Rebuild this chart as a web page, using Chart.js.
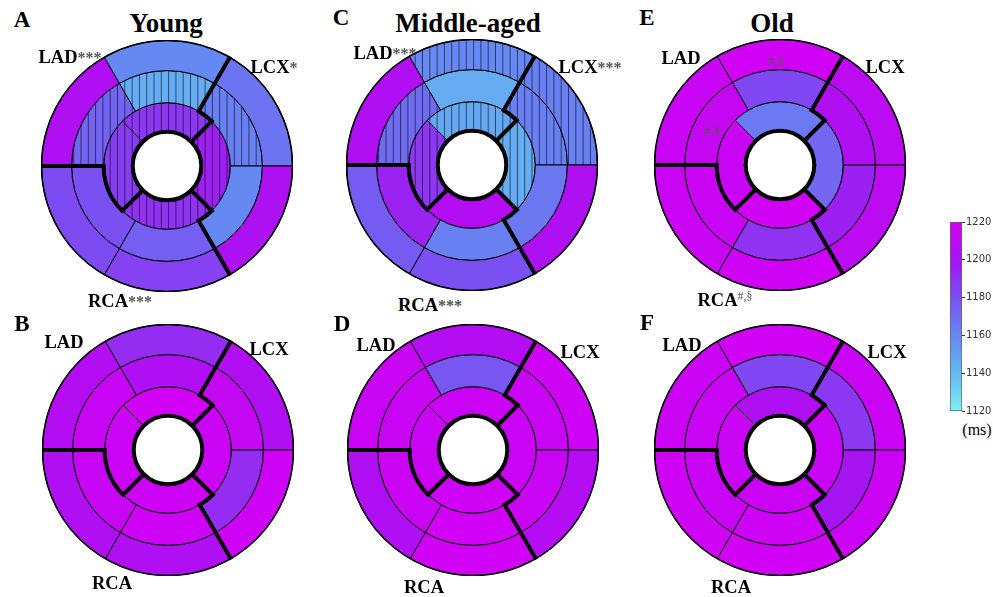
<!DOCTYPE html>
<html>
<head>
<meta charset="utf-8">
<script src="https://cdn.jsdelivr.net/npm/chart.js@4.4.0/dist/chart.umd.min.js"></script>
<style>
  body { margin: 0; background: #fff; }
  #page { position: relative; width: 993px; height: 597px; overflow: hidden; font-family: "Liberation Serif", "Times New Roman", serif; }
  .bull { position: absolute; }
  .t { position: absolute; transform: translate(-50%, -50%); line-height: 1; white-space: nowrap; font-weight: bold; color: #000; }
  .letter { font-size: 23px; }
  .title { font-size: 27px; }
  .lab { font-size: 18.5px; }
  .star { color: #555; font-size: 16px; }
  .sup { font-size: 12px; font-weight: normal; color: #555; vertical-align: 6px; }
  .note { font-size: 13px; font-weight: normal; color: #555; }
  .ms { font-size: 16px; font-weight: normal; }
</style>
</head>
<body>
<div id="page">
  <canvas id="bA" class="bull" width="252" height="252" style="left:41px;top:40px"></canvas>
  <canvas id="bB" class="bull" width="252" height="252" style="left:42px;top:324px"></canvas>
  <canvas id="bC" class="bull" width="252" height="252" style="left:346px;top:39px"></canvas>
  <canvas id="bD" class="bull" width="252" height="252" style="left:347px;top:324px"></canvas>
  <canvas id="bE" class="bull" width="252" height="252" style="left:654px;top:39px"></canvas>
  <canvas id="bF" class="bull" width="252" height="252" style="left:654px;top:324px"></canvas>
  <canvas id="cbar" width="45" height="206" style="position:absolute;left:948px;top:212px"></canvas>

  <div class="t letter" style="left:22px;top:19px">A</div>
  <div class="t title" style="left:166px;top:23px">Young</div>
  <div class="t lab" style="left:70px;top:57px">LAD<span class="star">***</span></div>
  <div class="t lab" style="left:274px;top:67px">LCX<span class="star">*</span></div>
  <div class="t lab" style="left:120px;top:301px">RCA<span class="star">***</span></div>

  <div class="t letter" style="left:22px;top:323px">B</div>
  <div class="t lab" style="left:64px;top:342px">LAD</div>
  <div class="t lab" style="left:269px;top:349px">LCX</div>
  <div class="t lab" style="left:112px;top:583px">RCA</div>

  <div class="t letter" style="left:341px;top:17px">C</div>
  <div class="t title" style="left:468px;top:23px">Middle-aged</div>
  <div class="t lab" style="left:385px;top:53px">LAD<span class="star">***</span></div>
  <div class="t lab" style="left:590px;top:67px">LCX<span class="star">***</span></div>
  <div class="t lab" style="left:430px;top:305px">RCA<span class="star">***</span></div>

  <div class="t letter" style="left:342px;top:323px">D</div>
  <div class="t lab" style="left:376px;top:345px">LAD</div>
  <div class="t lab" style="left:580px;top:352px">LCX</div>
  <div class="t lab" style="left:424px;top:587px">RCA</div>

  <div class="t letter" style="left:647px;top:17px">E</div>
  <div class="t title" style="left:772px;top:23px">Old</div>
  <div class="t lab" style="left:681px;top:58px">LAD</div>
  <div class="t lab" style="left:885px;top:67px">LCX</div>
  <div class="t lab" style="left:725px;top:300px">RCA<span class="sup">#,§</span></div>
  <div class="t note" style="left:776px;top:60px">#,§</div>
  <div class="t note" style="left:712px;top:130px">#,§</div>

  <div class="t letter" style="left:647px;top:322px">F</div>
  <div class="t lab" style="left:682px;top:345px">LAD</div>
  <div class="t lab" style="left:887px;top:352px">LCX</div>
  <div class="t lab" style="left:731px;top:587px">RCA</div>

  <div class="t ms" style="left:977px;top:430px">(ms)</div>
</div>
<script>
// T1 values (ms) per AHA segment 1..16
const valuesA = [1160, 1205, 1182, 1185, 1203, 1167, 1145, 1173, 1180, 1175, 1160, 1163, 1188, 1186, 1190, 1196];
const valuesB = [1192, 1207, 1205, 1205, 1218, 1205, 1205, 1215, 1215, 1218, 1192, 1213, 1219, 1217, 1218, 1217];
const valuesC = [1160, 1205, 1176, 1180, 1204, 1163, 1145, 1170, 1195, 1163, 1166, 1163, 1147, 1188, 1207, 1145];
const valuesD = [1207, 1216, 1205, 1219, 1207, 1218, 1178, 1216, 1217, 1219, 1216, 1216, 1217, 1217, 1218, 1217];
const valuesE = [1219, 1216, 1216, 1218, 1210, 1210, 1183, 1214, 1216, 1190, 1196, 1205, 1165, 1216, 1219, 1172];
const valuesF = [1219, 1217, 1218, 1219, 1217, 1217, 1183, 1216, 1216, 1218, 1200, 1188, 1204, 1216, 1217, 1216];

// hatched (significant) segments
const hatchA = [7, 8, 12, 13, 14, 15, 16];
const hatchC = [1, 6, 8, 12, 13, 14, 16];

// segment order in each ring, clockwise from the ring's start
const basalRing = [1, 6, 5, 4, 3, 2];
const midRing = [7, 12, 11, 10, 9, 8];
const apexRing = [13, 16, 15, 14];
const ringSpan = [60, 60, 60, 60, 60, 60];
const apexSpan = [90, 90, 90, 90];

// colour bar
const barTicks = [1120, 1140, 1160, 1180, 1200, 1220];
const barColors = ['#80f0f2', '#64b8f2', '#6688f2', '#7a50f2', '#a614f2', '#d200f4'];

function hexRgb(h) {
  return [1, 3, 5].map(i => parseInt(h.substr(i, 2), 16));
}

function cmap(v) {
  let i = 0;
  while (i < barTicks.length - 2 && v > barTicks[i + 1]) i++;
  let f = (v - barTicks[i]) / (barTicks[i + 1] - barTicks[i]);
  f = Math.max(0, Math.min(1, f));
  const a = hexRgb(barColors[i]), b = hexRgb(barColors[i + 1]);
  const c = a.map((x, k) => Math.round(x + (b[k] - x) * f));
  return `rgb(${c[0]},${c[1]},${c[2]})`;
}

function angDiff(a, b) {
  let d = b - a;
  while (d > Math.PI) d -= 2 * Math.PI;
  while (d <= -Math.PI) d += 2 * Math.PI;
  return d;
}

const bullseyePlugin = {
  id: 'bullseye',
  afterDatasetsDraw(chart) {
    const ctx = chart.ctx;
    const m0 = chart.getDatasetMeta(0);
    const m2 = chart.getDatasetMeta(2);
    const cx = m0.data[0].x, cy = m0.data[0].y;
    const R = m0.data[0].outerRadius;
    const rMid = m2.data[0].outerRadius;
    const rHole = m2.data[0].innerRadius;
    const hatch = chart.options.plugins.bullseye.hatch || [];

    // vertical hatching
    chart.data.datasets.forEach((ds, di) => {
      chart.getDatasetMeta(di).data.forEach((el, j) => {
        if (!hatch.includes(ds.segs[j])) return;
        ctx.save();
        ctx.beginPath();
        ctx.arc(cx, cy, el.outerRadius, el.startAngle, el.endAngle);
        ctx.arc(cx, cy, el.innerRadius, el.endAngle, el.startAngle, true);
        ctx.closePath();
        ctx.clip();
        ctx.strokeStyle = 'rgba(0,0,0,0.8)';
        ctx.lineWidth = 0.7;
        ctx.beginPath();
        for (let x = cx - R + 3; x < cx + R; x += 7.3) {
          ctx.moveTo(x, cy - R);
          ctx.lineTo(x, cy + R);
        }
        ctx.stroke();
        ctx.restore();
      });
    });

    // coronary territory borders
    const borders = [
      [m0.data[1].startAngle, m2.data[1].startAngle],
      [m0.data[3].startAngle, m2.data[2].startAngle],
      [m0.data[5].startAngle, m2.data[3].startAngle]
    ];
    ctx.save();
    ctx.strokeStyle = '#000';
    ctx.lineWidth = 4;
    ctx.lineJoin = 'miter';
    borders.forEach(([a, b]) => {
      ctx.beginPath();
      ctx.moveTo(cx + (R + 1) * Math.cos(a), cy + (R + 1) * Math.sin(a));
      ctx.lineTo(cx + rMid * Math.cos(a), cy + rMid * Math.sin(a));
      ctx.arc(cx, cy, rMid, a, b, angDiff(a, b) < 0);
      ctx.lineTo(cx + rHole * Math.cos(b), cy + rHole * Math.sin(b));
      ctx.stroke();
    });
    ctx.beginPath();
    ctx.arc(cx, cy, rHole, 0, 2 * Math.PI);
    ctx.stroke();
    ctx.lineWidth = 1.6;
    ctx.beginPath();
    ctx.arc(cx, cy, R, 0, 2 * Math.PI);
    ctx.stroke();
    ctx.restore();
  }
};

function ring(vals, segs, span, rotation, weight) {
  return {
    data: span,
    segs: segs,
    backgroundColor: segs.map(s => cmap(vals[s - 1])),
    borderColor: '#000',
    borderWidth: 1,
    rotation: rotation,
    weight: weight
  };
}

function bullseye(id, vals, hatch) {
  new Chart(document.getElementById(id), {
    type: 'doughnut',
    data: {
      labels: ['', '', '', '', '', ''],
      datasets: [
        ring(vals, basalRing, ringSpan, -30, 30),
        ring(vals, midRing, ringSpan, -30, 32),
        ring(vals, apexRing, apexSpan, -45, 29)
      ]
    },
    options: {
      responsive: false,
      animation: false,
      cutout: '27.3%',
      layout: { padding: 0 },
      plugins: {
        legend: { display: false },
        tooltip: { enabled: false },
        bullseye: { hatch: hatch }
      }
    },
    plugins: [bullseyePlugin]
  });
}

bullseye('bA', valuesA, hatchA);
bullseye('bB', valuesB, []);
bullseye('bC', valuesC, hatchC);
bullseye('bD', valuesD, []);
bullseye('bE', valuesE, []);
bullseye('bF', valuesF, []);

// colour bar
new Chart(document.getElementById('cbar'), {
  type: 'bar',
  data: {
    labels: ['T1'],
    datasets: [{
      data: [[barTicks[0], barTicks[barTicks.length - 1]]],
      backgroundColor(context) {
        const chart = context.chart;
        const area = chart.chartArea;
        if (!area) return barColors[0];
        const y = chart.scales.y;
        const g = chart.ctx.createLinearGradient(0, y.getPixelForValue(barTicks[0]), 0, y.getPixelForValue(barTicks[barTicks.length - 1]));
        barColors.forEach((c, i) => g.addColorStop(i / (barColors.length - 1), c));
        return g;
      },
      borderColor: '#666',
      borderWidth: 1,
      borderSkipped: false,
      barPercentage: 1,
      categoryPercentage: 1
    }]
  },
  options: {
    responsive: false,
    animation: false,
    layout: { padding: { left: 2, top: 10, bottom: 3, right: 0 } },
    plugins: { legend: { display: false }, tooltip: { enabled: false } },
    scales: {
      x: { display: false },
      y: {
        position: 'right',
        min: barTicks[0],
        max: barTicks[barTicks.length - 1],
        afterBuildTicks(scale) { scale.ticks = barTicks.map(v => ({ value: v })); },
        afterFit(scale) { scale.width = 31; },
        ticks: { color: '#333', font: { family: 'DejaVu Sans', size: 10 }, padding: 1, callback: v => String(v) },
        grid: { drawOnChartArea: false, tickLength: 3, color: '#333' },
        border: { display: false }
      }
    }
  }
});
</script>
</body>
</html>
